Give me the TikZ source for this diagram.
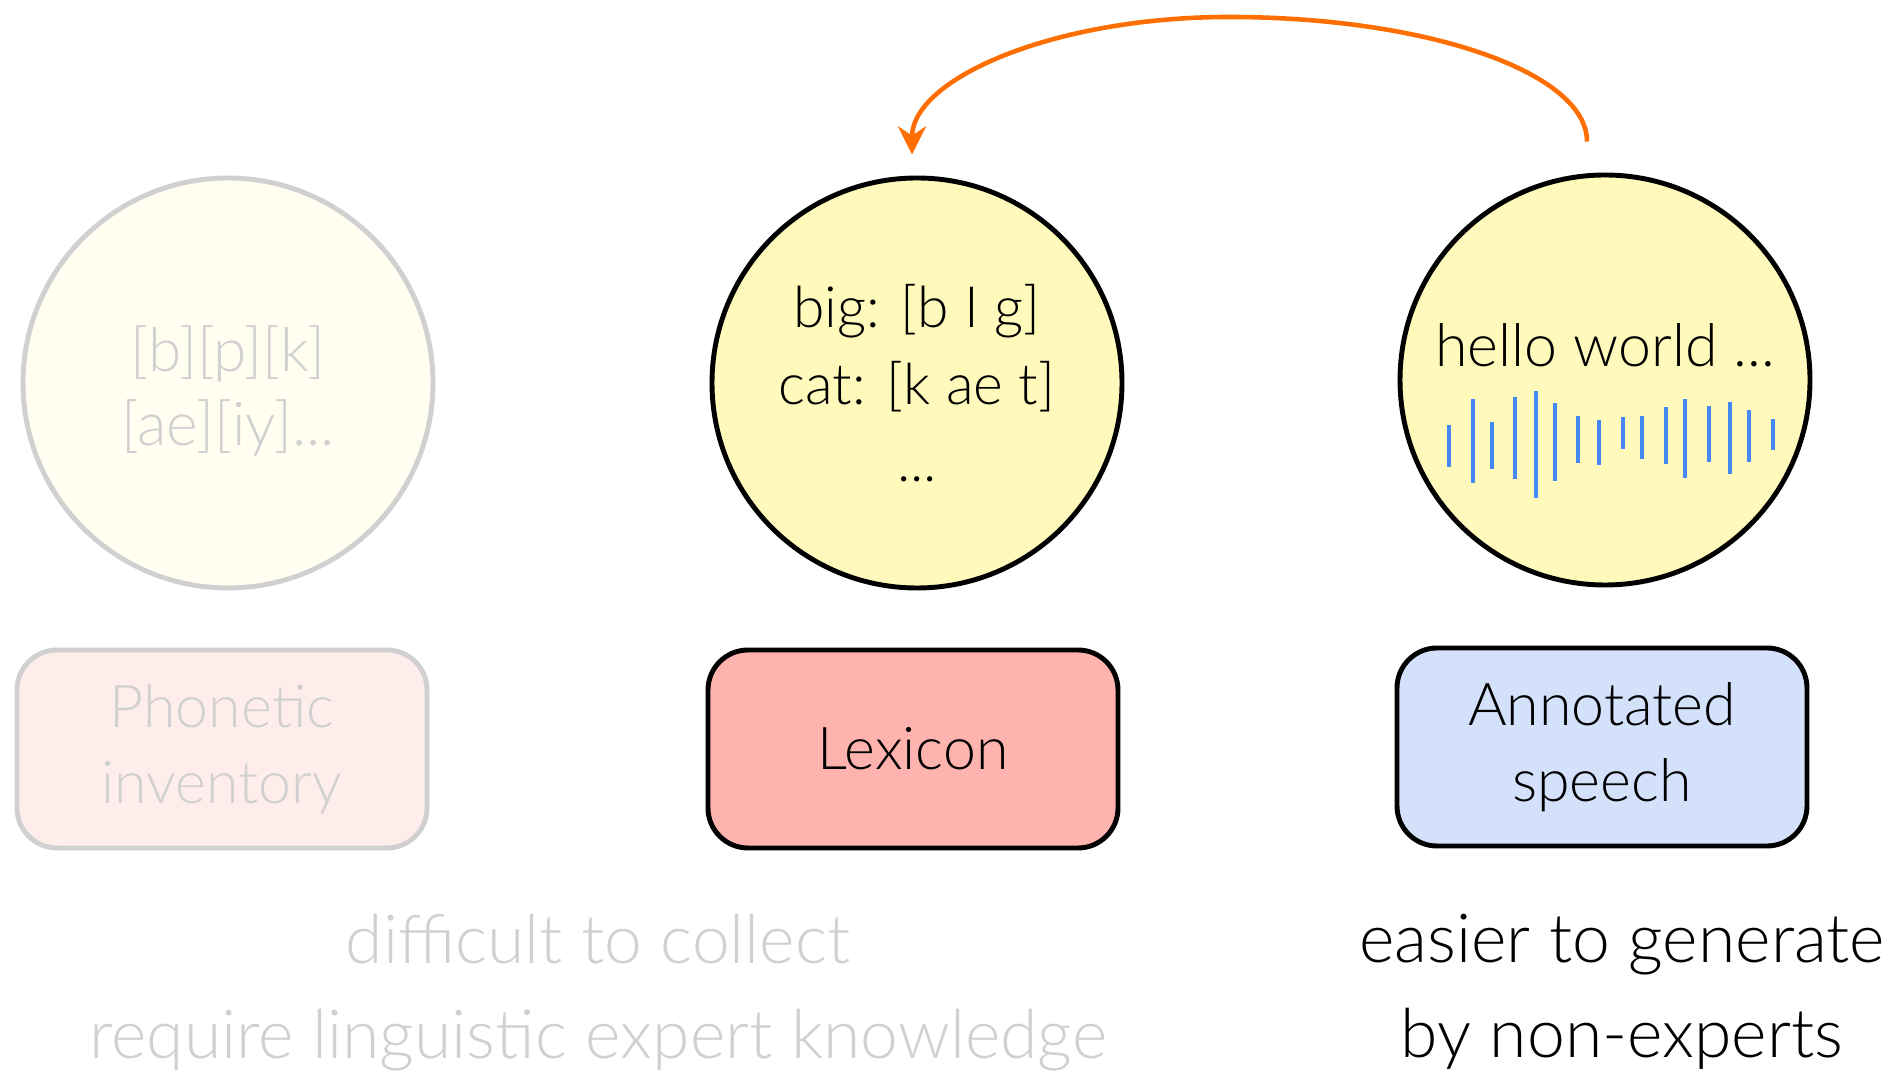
\documentclass[tikz,border=0pt]{standalone}
\usepackage{fontspec}
\setmainfont{Lato Light}
\usepackage{xcolor}
\usepackage{tikz}
\usetikzlibrary{arrows.meta}

\definecolor{bubbleyellow}{RGB}{255,250,187}
\definecolor{paleyellow}{RGB}{255,254,240}
\definecolor{fadegray}{RGB}{208,208,208}
\definecolor{lexred}{RGB}{255,179,174}
\definecolor{palered}{RGB}{255,237,235}
\definecolor{speechblue}{RGB}{212,225,250}
\definecolor{wavecol}{RGB}{68,136,245}
\definecolor{arrorange}{RGB}{255,110,0}

\begin{document}
\begin{tikzpicture}[
    bubble/.style={circle, draw, line width=1.4pt, minimum size=4.10cm, fill=bubbleyellow, align=center, font=\fontsize{16.2}{22}\selectfont},
    resbox/.style={rectangle, rounded corners=0.4cm, draw, line width=1.4pt, minimum width=4.10cm, minimum height=1.98cm, align=center, font=\fontsize{16.8}{21.5}\selectfont},
    faded/.style={draw=fadegray, text=fadegray},
    note/.style={align=center, font=\fontsize{19.3}{27}\selectfont},
    wavebar/.style={draw=wavecol, line width=1.4pt}
]
    \useasboundingbox (0,0) rectangle (18.99,-10.72);

    % Resource bubbles
    \node[bubble, faded, fill=paleyellow] (inv) at (2.28,-3.83) {};
    \node[align=center, text=fadegray, font=\fontsize{17.2}{21}\selectfont] (invtext) at (2.28,-3.91) {[b][p][k]\\{}[ae][iy]...};
    \node[bubble] (lex) at (9.17,-3.83) {big: [b I g]\\cat: [k ae t]\\...};
    \node[bubble] (speech) at (16.05,-3.80) {};
    \node[font=\fontsize{16.8}{21}\selectfont] (hello) at (16.05,-3.45) {hello world ...};

    % Waveform
    \foreach \x/\a/\b in {14.49/4.25/4.67, 14.73/3.99/4.83, 14.92/4.22/4.69, 15.15/3.97/4.79,
                          15.36/3.91/4.98, 15.55/4.03/4.81, 15.78/4.16/4.63, 15.99/4.20/4.65,
                          16.23/4.17/4.49, 16.42/4.16/4.59, 16.66/4.07/4.64, 16.85/3.99/4.78,
                          17.09/4.06/4.62, 17.30/4.02/4.74, 17.49/4.10/4.62, 17.73/4.19/4.50} {
        \draw[wavebar] (\x,-\a) -- (\x,-\b);
    }

    % Resource labels
    \node[resbox, faded, fill=palered] (invbox) at (2.22,-7.49) {Phonetic\\inventory};
    \node[resbox, fill=lexred] (lexbox) at (9.13,-7.49) {Lexicon};
    \node[resbox, fill=speechblue] (speechbox) at (16.02,-7.47) {Annotated\\speech};

    % Notes
    \node[note, text=fadegray] (hard) at (5.98,-9.93) {difficult to collect\\require linguistic expert knowledge};
    \node[note] (easy) at (16.22,-9.92) {easier to generate\\by non-experts};

    % Arrow from speech to lexicon
    \coordinate (src) at ([shift={(-0.18,0.31)}]speech.north);
    \coordinate (apex) at (12.29,-0.17);
    \coordinate (dst) at ([shift={(-0.05,0.21)}]lex.north);
    \draw[arrorange, line width=1.3pt, -{Stealth[length=8pt,width=8pt]}]
        (src) .. controls +(0,0.69) and +(1.98,0) .. (apex)
              .. controls +(-1.75,0) and +(0,0.76) .. (dst);
\end{tikzpicture}
\end{document}
